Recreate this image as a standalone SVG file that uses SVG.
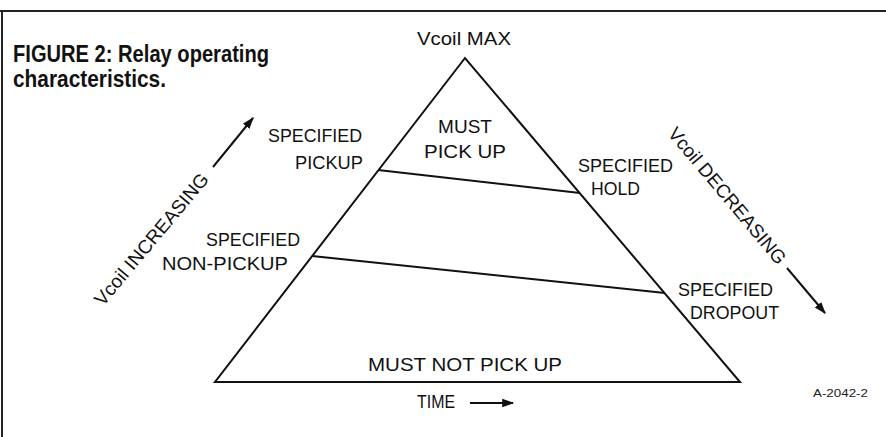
<svg xmlns="http://www.w3.org/2000/svg" width="886" height="437" viewBox="0 0 886 437">
<style>
.ln{stroke:#111;stroke-width:2;fill:none}
.lb{font-family:"Liberation Sans",Arial,sans-serif;font-size:19px;fill:#111}
.ti{font-family:"Liberation Sans",Arial,sans-serif;font-size:23px;font-weight:bold;fill:#111}
.ar{stroke:#111;stroke-width:2;fill:none}
</style>
<defs>
<marker id="ah" viewBox="0 0 10 10" refX="9" refY="5" markerWidth="6" markerHeight="6" orient="auto" markerUnits="strokeWidth">
<path d="M0,1.5 L10,5 L0,8.5 Z" fill="#111"/>
</marker>
</defs>
<rect width="886" height="437" fill="#fff"/>
<g id="frame">
<line x1="0" y1="11" x2="886" y2="11" stroke="#222" stroke-width="2"/>
<line x1="2" y1="11" x2="2" y2="437" stroke="#222" stroke-width="2"/>
</g>
<g id="title">
<text class="ti" x="13" y="62" textLength="256" lengthAdjust="spacingAndGlyphs">FIGURE 2: Relay operating</text>
<text class="ti" x="13" y="87" textLength="153" lengthAdjust="spacingAndGlyphs">characteristics.</text>
</g>
<g id="triangle">
<polygon class="ln" points="465,58 215,382 740,382" stroke-linejoin="miter"/>
</g>
<g id="connectors">
<line class="ln" x1="378" y1="170" x2="580" y2="193"/>
<line class="ln" x1="312" y1="256" x2="665" y2="293"/>
<line class="ar" x1="213" y1="167" x2="253" y2="118" marker-end="url(#ah)"/>
<line class="ar" x1="787" y1="268" x2="825" y2="313" marker-end="url(#ah)"/>
<line class="ar" x1="470" y1="403" x2="513" y2="403" marker-end="url(#ah)"/>
</g>
<g id="vcoil-max"><text class="lb" x="417" y="45" textLength="94" lengthAdjust="spacingAndGlyphs">Vcoil MAX</text></g>
<g id="must-pick-up">
<text class="lb" x="465" y="133" text-anchor="middle">MUST</text>
<text class="lb" x="424" y="158" textLength="82" lengthAdjust="spacingAndGlyphs">PICK UP</text>
</g>
<g id="specified-pickup">
<text class="lb" x="268" y="142" textLength="94" lengthAdjust="spacingAndGlyphs">SPECIFIED</text>
<text class="lb" x="295" y="169" textLength="68" lengthAdjust="spacingAndGlyphs">PICKUP</text>
</g>
<g id="specified-non-pickup">
<text class="lb" x="206" y="246" textLength="94" lengthAdjust="spacingAndGlyphs">SPECIFIED</text>
<text class="lb" x="162" y="270" textLength="126" lengthAdjust="spacingAndGlyphs">NON-PICKUP</text>
</g>
<g id="specified-hold">
<text class="lb" x="578" y="172" textLength="95" lengthAdjust="spacingAndGlyphs">SPECIFIED</text>
<text class="lb" x="591" y="195" textLength="49" lengthAdjust="spacingAndGlyphs">HOLD</text>
</g>
<g id="specified-dropout">
<text class="lb" x="678" y="296" textLength="95" lengthAdjust="spacingAndGlyphs">SPECIFIED</text>
<text class="lb" x="690" y="319" textLength="89" lengthAdjust="spacingAndGlyphs">DROPOUT</text>
</g>
<g id="must-not-pick-up"><text class="lb" x="368" y="371" textLength="194" lengthAdjust="spacingAndGlyphs">MUST NOT PICK UP</text></g>
<g id="time"><text class="lb" x="417" y="408" textLength="38" lengthAdjust="spacingAndGlyphs">TIME</text></g>
<g id="vcoil-increasing"><text class="lb" transform="translate(103,307) rotate(-50)" textLength="166" lengthAdjust="spacingAndGlyphs">Vcoil INCREASING</text></g>
<g id="vcoil-decreasing"><text class="lb" transform="translate(667,134) rotate(50)" textLength="172" lengthAdjust="spacingAndGlyphs">Vcoil DECREASING</text></g>
<g id="ref"><text x="813" y="397" font-family="Liberation Sans,Arial,sans-serif" font-size="11" fill="#222" textLength="55" lengthAdjust="spacingAndGlyphs">A-2042-2</text></g>
</svg>
